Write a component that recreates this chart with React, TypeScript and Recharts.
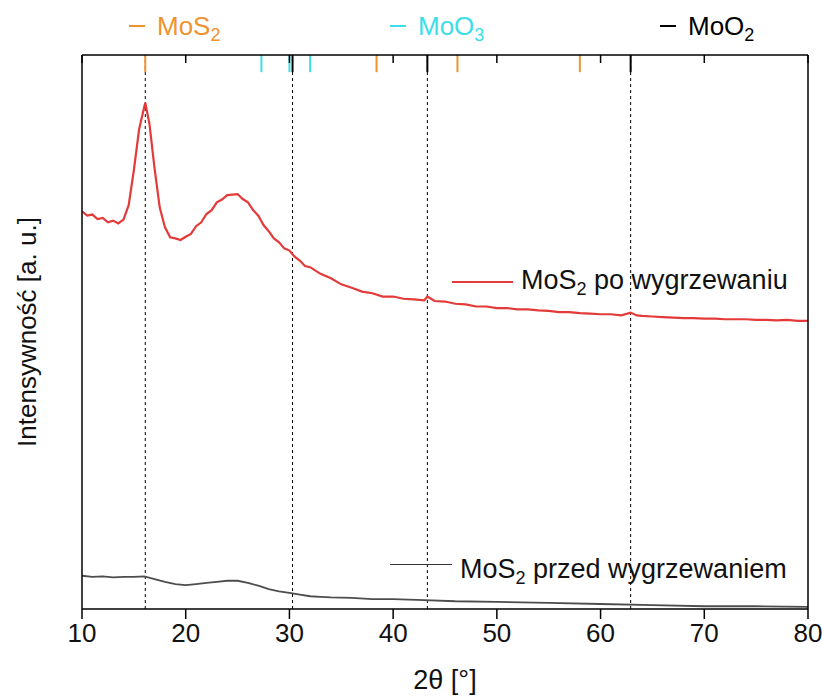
import React from 'react';
import { ComposedChart, Line, XAxis, YAxis, ReferenceLine } from 'recharts';

// 2θ positions and intensities (a. u., 0 = bottom of frame, 100 = top)
const afterTheta = [
  10, 10.5, 11, 11.5, 12, 12.5, 13, 13.5, 14, 14.5, 15, 15.5, 16, 16.1, 16.5, 17, 17.5, 18, 18.5, 19,
  19.5, 20, 20.5, 21, 21.5, 22, 22.5, 23, 23.5, 24, 24.5, 25, 25.5, 26, 26.5, 27, 27.5, 28, 28.5, 29,
  29.5, 30, 30.5, 31, 31.5, 32, 33, 34, 35, 36, 37, 38, 39, 40, 41, 42, 43, 43.3, 44, 45,
  46, 47, 48, 49, 50, 51, 52, 53, 54, 55, 56, 57, 58, 59, 60, 61, 62, 62.9, 63.5, 64,
  65, 66, 67, 68, 69, 70, 71, 72, 73, 74, 75, 76, 77, 78, 79, 80,
];
const afterIntensity = [
  71.8, 71.0, 71.2, 70.4, 70.6, 69.8, 70.1, 69.6, 70.3, 72.9, 79.2, 86.5, 90.6, 91.4, 87.6, 79.5, 72.4, 68.9, 67.1, 66.9,
  66.6, 67.2, 67.7, 69.1, 69.8, 71.3, 72.0, 73.4, 73.9, 74.7, 74.8, 74.9, 74.0, 73.4, 72.0, 71.0, 69.3, 68.2, 66.9, 66.2,
  65.1, 64.7, 63.6, 62.9, 61.9, 61.7, 60.5, 59.7, 58.6, 58.0, 57.3, 57.0, 56.4, 56.4, 56.0, 55.9, 55.7, 56.4, 55.6, 55.5,
  55.1, 55.0, 54.6, 54.6, 54.3, 54.3, 54.1, 54.1, 53.9, 53.8, 53.6, 53.6, 53.4, 53.3, 53.2, 53.2, 53.0, 53.5, 53.0, 52.9,
  52.8, 52.7, 52.6, 52.5, 52.5, 52.4, 52.4, 52.3, 52.3, 52.3, 52.2, 52.2, 52.1, 52.2, 52.0, 52.0,
];

const beforeTheta = [
  10, 11, 12, 13, 14, 15, 16, 17, 18, 19, 20, 21, 22, 23, 24, 25, 26, 27, 28, 29,
  30, 31, 32, 33, 34, 36, 38, 40, 43, 46, 50, 55, 60, 65, 70, 75, 80,
];
const beforeIntensity = [
  6.0, 5.8, 5.9, 5.7, 5.8, 5.8, 5.9, 5.4, 4.9, 4.5, 4.3, 4.5, 4.7, 4.9, 5.1, 5.1, 4.7, 4.2, 3.6, 3.2,
  2.9, 2.6, 2.3, 2.2, 2.1, 2.0, 1.8, 1.8, 1.6, 1.4, 1.3, 1.1, 0.9, 0.7, 0.5, 0.5, 0.4,
];

const xTicks = [10, 20, 30, 40, 50, 60, 70, 80];
const mos2Peaks = [16.1, 38.4, 46.2, 58.0];
const moo3Peaks = [27.3, 30.0, 32.0];
const moo2Peaks = [30.3, 43.3, 62.9];
const dashedLines = [16.1, 30.3, 43.3, 62.9];

const afterData = afterTheta.map((x, i) => ({ x, y: afterIntensity[i] }));
const beforeData = beforeTheta.map((x, i) => ({ x, y: beforeIntensity[i] }));

const FONT = 'Arial, "Liberation Sans", sans-serif';
const ORANGE = '#EE932F';
const CYAN = '#3CDDE6';
const RED = '#E53A3A';

const tickTop = 96.9;

const PhaseKey = ({ left, color, name, sub }: { left: number; color: string; name: string; sub: string }) => (
  <div style={{ position: 'absolute', left, top: 13, height: 26, color, whiteSpace: 'nowrap' }}>
    <div style={{ position: 'absolute', left: 0, top: 12, width: 16, height: 2, background: color }} />
    <div style={{ position: 'absolute', left: 28, top: 0, fontSize: 26, lineHeight: '26px' }}>
      {name}
      <sub style={{ fontSize: 18, verticalAlign: -6 }}>{sub}</sub>
    </div>
  </div>
);

const App: React.FC = () => {
  return (
    <div style={{ position: 'absolute', left: 0, top: 0, width: 822, height: 696, background: '#fff', fontFamily: FONT }}>
      <ComposedChart width={822} height={696} margin={{ top: 55, right: 0, bottom: 0, left: 0 }}>
        <XAxis
          dataKey="x"
          type="number"
          domain={[10, 80]}
          ticks={xTicks}
          allowDataOverflow
          height={87}
          tickSize={10}
          tickMargin={5}
          axisLine={{ stroke: '#000', strokeWidth: 1.5 }}
          tickLine={{ stroke: '#000', strokeWidth: 1.5 }}
          tick={{ fontSize: 26, fill: '#111', fontFamily: '"Liberation Sans Narrow", Arial, sans-serif' }}
        />
        <XAxis
          xAxisId="top"
          orientation="top"
          dataKey="x"
          type="number"
          domain={[10, 80]}
          ticks={xTicks}
          allowDataOverflow
          mirror
          tickSize={8}
          tickFormatter={() => ''}
          axisLine={{ stroke: '#000', strokeWidth: 1.5 }}
          tickLine={{ stroke: '#000', strokeWidth: 1.5 }}
        />
        <YAxis
          type="number"
          domain={[0, 100]}
          allowDataOverflow
          width={82}
          tick={false}
          tickLine={false}
          axisLine={{ stroke: '#000', strokeWidth: 1.5 }}
        />
        <YAxis
          yAxisId="right"
          orientation="right"
          type="number"
          domain={[0, 100]}
          allowDataOverflow
          width={14}
          tick={false}
          tickLine={false}
          axisLine={{ stroke: '#000', strokeWidth: 1.5 }}
        />

        {dashedLines.map((v) => (
          <ReferenceLine key={`d-${v}`} x={v} stroke="#000" strokeWidth={1} strokeDasharray="3 3" />
        ))}
        {moo2Peaks.map((v) => (
          <ReferenceLine key={`b-${v}`} segment={[{ x: v, y: 100 }, { x: v, y: tickTop }]} stroke="#000" strokeWidth={2} />
        ))}
        {moo3Peaks.map((v) => (
          <ReferenceLine key={`c-${v}`} segment={[{ x: v, y: 100 }, { x: v, y: tickTop }]} stroke={CYAN} strokeWidth={2} />
        ))}
        {mos2Peaks.map((v) => (
          <ReferenceLine key={`o-${v}`} segment={[{ x: v, y: 100 }, { x: v, y: tickTop }]} stroke={ORANGE} strokeWidth={2} />
        ))}

        <Line
          data={beforeData}
          dataKey="y"
          type="linear"
          stroke="#4d4d4d"
          strokeWidth={1.8}
          dot={false}
          isAnimationActive={false}
        />
        <Line
          data={afterData}
          dataKey="y"
          type="linear"
          stroke={RED}
          strokeWidth={2.2}
          dot={false}
          isAnimationActive={false}
        />
      </ComposedChart>

      {/* top phase legend */}
      <PhaseKey left={129} color={ORANGE} name="MoS" sub="2" />
      <PhaseKey left={390} color={CYAN} name="MoO" sub="3" />
      <PhaseKey left={660} color="#000" name="MoO" sub="2" />

      {/* series legend */}
      <div style={{ position: 'absolute', left: 452, top: 281, width: 61, height: 1.5, background: RED }} />
      <div style={{ position: 'absolute', left: 521, top: 267, fontSize: 27, color: '#111', lineHeight: '27px', whiteSpace: 'nowrap' }}>
        MoS<sub style={{ fontSize: 18, verticalAlign: -6 }}>2</sub> po wygrzewaniu
      </div>
      <div style={{ position: 'absolute', left: 390, top: 564, width: 62, height: 1, background: '#333' }} />
      <div style={{ position: 'absolute', left: 460, top: 556, fontSize: 27, color: '#111', lineHeight: '27px', whiteSpace: 'nowrap' }}>
        MoS<sub style={{ fontSize: 18, verticalAlign: -6 }}>2</sub> przed wygrzewaniem
      </div>

      {/* axis titles */}
      <div style={{ position: 'absolute', left: 445, top: 667, transform: 'translateX(-50%)', fontSize: 27, color: '#111', lineHeight: '27px', whiteSpace: 'nowrap' }}>
        2θ [°]
      </div>
      <div
        style={{
          position: 'absolute',
          left: 27,
          top: 332,
          transform: 'translate(-50%, -50%) rotate(-90deg)',
          fontSize: 26,
          color: '#111',
          lineHeight: '26px',
          whiteSpace: 'nowrap',
        }}
      >
        Intensywność [a. u.]
      </div>
    </div>
  );
};

export default App;
